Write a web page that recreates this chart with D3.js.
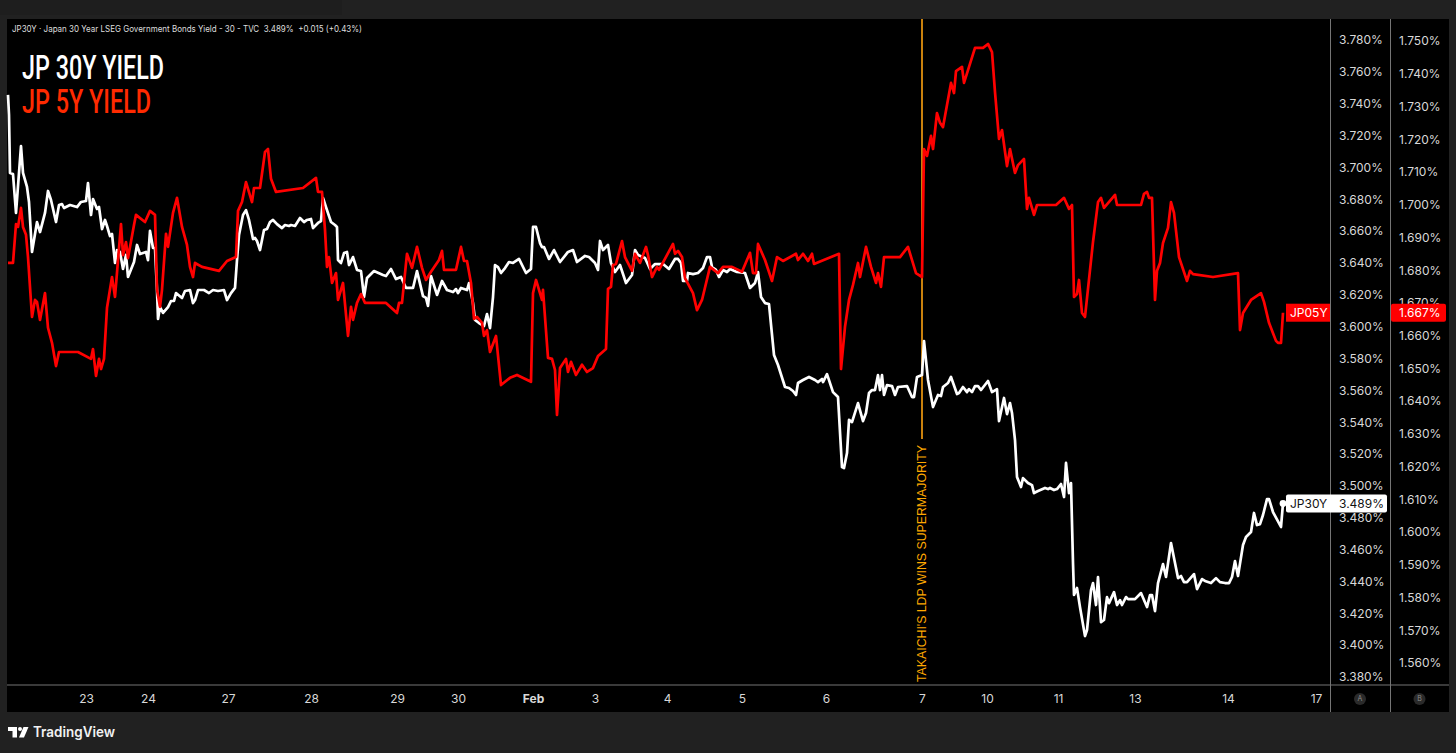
<!DOCTYPE html>
<html>
<head>
<meta charset="utf-8">
<script src="https://cdn.jsdelivr.net/npm/d3@7"></script>
<style>
  html, body { margin: 0; padding: 0; background: #212121; overflow: hidden; }
  svg { display: block; font-family: Inter, "Liberation Sans", sans-serif; }
  .axis text { fill: #d8d8d8; font-size: 12px; font-family: Inter, sans-serif; }
  .axis path, .axis line { display: none; }
</style>
</head>
<body>
<div id="chart"></div>
<script>
// [bar, yield %]
var jp30y = [[0,3.7455],[.5,3.7329],[1,3.6965],[2.5,3.6958],[4,3.6714],[6.5,3.7134],[7.5,3.6965],[9.5,3.6877],[10.5,3.6783],[12,3.6469],[14.5,3.6657],[16,3.6594],[18.5,3.6714],[20,3.6852],[21.5,3.6795],[24,3.6657],[25.5,3.6764],[27,3.677],[28,3.6745],[31,3.6764],[34.5,3.6751],[36.5,3.6783],[39,3.6789],[40,3.6902],[41.5,3.6701],[42.5,3.6801],[44.5,3.6739],[45.5,3.6751],[47,3.6613],[48.5,3.667],[49.5,3.6632],[51,3.6569],[52,3.6582],[53.5,3.64],[54.5,3.6481],[56,3.6469],[57.5,3.6362],[59,3.645],[60,3.6312],[63,3.6406],[64.5,3.6513],[66,3.6456],[69,3.6469],[70,3.6418],[71,3.6601],[72.5,3.6494],[73.5,3.6494],[74.5,3.623],[75,3.6048],[76,3.6123],[77.5,3.6086],[80,3.6123],[81.5,3.6161],[83,3.6161],[84,3.6211],[87,3.618],[88.5,3.6224],[91,3.623],[92.5,3.6148],[93.5,3.6167],[95,3.623],[98,3.623],[100.5,3.6211],[102.5,3.623],[105,3.6224],[108,3.623],[109.5,3.6167],[111.5,3.6211],[113.5,3.6243],[114.5,3.6418],[115.5,3.6575],[117.5,3.6701],[119,3.6732],[120.5,3.667],[122.5,3.655],[123.5,3.6557],[124.5,3.6538],[126,3.6481],[128,3.6607],[129.5,3.6613],[131,3.6657],[132.5,3.667],[134.5,3.6644],[137,3.6619],[138.5,3.6638],[140.5,3.6632],[141.5,3.6638],[143.5,3.6632],[146,3.6682],[148,3.6657],[149.5,3.667],[151.5,3.6676],[152.5,3.6619],[155,3.6651],[156.5,3.6663],[157.5,3.6808],[159,3.6751],[161.5,3.6657],[163.5,3.6638],[164.5,3.6626],[165,3.6418],[166.5,3.64],[168,3.6462],[169.5,3.6469],[170.5,3.6387],[172.5,3.6437],[174.5,3.6356],[176.5,3.6349],[178,3.6186],[179.5,3.6305],[183,3.6349],[187.5,3.6324],[189,3.6318],[191.5,3.6362],[194,3.6299],[196.5,3.6312],[199,3.6243],[202.5,3.6243],[204.5,3.6349],[207.5,3.6192],[209,3.618],[210,3.613],[211.5,3.6318],[214.5,3.6199],[217,3.6287],[219.5,3.623],[222.5,3.6217],[224,3.6236],[225,3.6211],[226.5,3.6243],[229.5,3.623],[230.5,3.6274],[232.5,3.6148],[233.5,3.6042],[235.5,3.6023],[238,3.6004],[239.5,3.6079],[241,3.5991],[242.5,3.6186],[243.5,3.6387],[245,3.6374],[246.5,3.6337],[248.5,3.6368],[250.5,3.6406],[252.5,3.64],[255.5,3.6425],[259,3.6337],[261.5,3.6362],[262.5,3.6626],[264,3.6626],[266,3.6525],[267,3.65],[268,3.65],[270.5,3.6425],[273,3.6481],[276,3.6406],[280,3.6469],[282.5,3.6481],[284.5,3.6406],[288.5,3.6444],[290.5,3.6437],[293.5,3.64],[295,3.6356],[296,3.6538],[297.5,3.6481],[300,3.6513],[301.5,3.64],[303.5,3.6343],[306,3.6387],[309,3.6274],[312,3.6324],[313.5,3.6481],[315,3.645],[318.5,3.6431],[321,3.6362],[323.5,3.6393],[327.5,3.6393],[330.5,3.6362],[333.5,3.6425],[335,3.6425],[336.5,3.64],[337.5,3.6287],[339.5,3.6287],[340,3.6337],[342.5,3.633],[345,3.6337],[347.5,3.6368],[349.5,3.6437],[351,3.6437],[352,3.6374],[354,3.6356],[355.5,3.6312],[357.5,3.6356],[359.5,3.6343],[361,3.6362],[364.5,3.6343],[368.5,3.6337],[371,3.6243],[373.5,3.6274],[375,3.6343],[376.5,3.6186],[378.5,3.6148],[380.5,3.6142],[383,3.5822],[385,3.5759],[388.5,3.5621],[390.5,3.5615],[392.5,3.5596],[394,3.5571],[395,3.5646],[397.5,3.5665],[400.5,3.5684],[403.5,3.5665],[405,3.5652],[407,3.5671],[407.5,3.5652],[409.5,3.5702],[412.5,3.5589],[415,3.5558],[417,3.5118],[418,3.5112],[419.5,3.5206],[420.5,3.5414],[422,3.5401],[425,3.552],[427.5,3.5407],[429,3.5458],[430.5,3.5583],[432,3.5602],[433.5,3.5602],[435,3.5696],[436,3.5602],[437,3.5696],[438,3.5571],[439.5,3.5633],[442,3.5627],[443.5,3.5571],[445,3.5621],[449.5,3.5627],[452,3.5558],[453,3.5558],[454.5,3.5684],[457,3.5696],[458,3.591],[460,3.5665],[462.5,3.5495],[465,3.5571],[466.5,3.5564],[467.5,3.5621],[470,3.5646],[471.5,3.5684],[474.5,3.5577],[475.5,3.5583],[477.5,3.5621],[479.5,3.5589],[480.5,3.5608],[482,3.5589],[483.5,3.5627],[485,3.5627],[486.5,3.5602],[490,3.5659],[492,3.5589],[494.5,3.5608],[495.5,3.5407],[498,3.5552],[499.5,3.5451],[501,3.552],[502,3.5458],[503.5,3.5288],[504.5,3.5056],[506.5,3.4993],[507.5,3.5049],[510,3.5018],[512,3.5005],[513,3.4955],[515,3.4968],[518.5,3.4987],[520,3.498],[521,3.4987],[523,3.4974],[524.5,3.498],[526.5,3.5012],[528,3.493],[529,3.5144],[530.5,3.4955],[531.5,3.5018],[532.5,3.4516],[533,3.4315],[534.5,3.4359],[536,3.4239],[538.5,3.4057],[539.5,3.4095],[541.5,3.4346],[542.5,3.439],[544,3.4252],[545,3.4428],[546.5,3.4145],[548,3.4158],[549.5,3.4302],[550.5,3.4264],[553,3.4333],[554.5,3.4252],[556,3.4283],[557,3.4252],[559,3.4302],[560,3.4289],[563.5,3.4289],[566.5,3.4327],[569.5,3.4239],[571,3.4315],[572,3.4315],[573.5,3.4214],[575,3.439],[577.5,3.4509],[579,3.4428],[581.5,3.4641],[585,3.4421],[586.5,3.4434],[588,3.4396],[589.5,3.4396],[593,3.4446],[594.5,3.4352],[597,3.4415],[598.5,3.4403],[601.5,3.439],[604,3.4421],[606,3.4396],[608.5,3.439],[610.5,3.439],[612,3.4428],[613.5,3.4528],[615,3.4434],[617.5,3.4629],[619,3.4679],[621.5,3.471],[623,3.483],[624.5,3.4754],[626,3.476],[627.5,3.4817],[629.5,3.4917],[630.5,3.4917],[632.5,3.4836],[636.5,3.4742],[637.5,3.489]];

var jp05y = [[0,1.6822],[2.5,1.6822],[4,1.6941],[5,1.6932],[6.5,1.699],[7.5,1.6932],[9,1.6908],[10,1.684],[12,1.6657],[13.5,1.6709],[14.5,1.6703],[16,1.6648],[18.5,1.673],[20,1.6624],[22,1.6578],[24,1.6507],[25.5,1.655],[35,1.655],[41.5,1.6529],[42.5,1.6559],[44,1.6477],[45.5,1.6529],[46.5,1.6498],[48,1.6529],[49.5,1.6685],[52,1.6779],[53.5,1.6718],[56.5,1.6941],[57.5,1.6846],[59,1.6886],[60,1.6837],[63,1.6938],[64,1.6969],[68.5,1.6947],[71,1.6981],[73.5,1.6969],[74.5,1.674],[76,1.6688],[77,1.674],[79,1.6911],[80,1.6871],[82.5,1.6975],[84.5,1.7021],[87,1.6932],[89.5,1.6877],[91,1.681],[92.5,1.6779],[93.5,1.6822],[97,1.681],[105.5,1.6798],[109.5,1.6828],[114,1.684],[115,1.6981],[117,1.7008],[119,1.7069],[122,1.7008],[123,1.7051],[126,1.7051],[128.5,1.7161],[130,1.717],[131.5,1.7079],[134,1.7039],[147.5,1.7051],[154,1.7082],[155,1.7039],[157,1.7039],[158.5,1.6923],[159.5,1.681],[160.5,1.684],[162,1.6761],[164,1.6791],[165,1.6709],[167.5,1.6761],[170,1.6599],[171.5,1.6688],[172.5,1.6648],[174.5,1.67],[176.5,1.6727],[178.5,1.67],[189,1.67],[194.5,1.6669],[195.5,1.67],[197,1.67],[199.5,1.685],[202,1.6807],[204.5,1.6871],[207,1.6807],[209,1.677],[211.5,1.6795],[215.5,1.6831],[217,1.6859],[218,1.6801],[224,1.6801],[226.5,1.6871],[228,1.6828],[229.5,1.6828],[231.5,1.6761],[233,1.6651],[234.5,1.6657],[237,1.6639],[238,1.6599],[239.5,1.6617],[241,1.655],[244,1.6599],[246.5,1.6449],[251,1.6471],[254.5,1.648],[261.5,1.6459],[262.5,1.673],[264,1.677],[267,1.6709],[267.5,1.674],[270,1.6532],[272,1.6529],[273.5,1.6495],[274.5,1.6358],[276,1.6501],[279,1.6529],[280,1.6489],[281.5,1.652],[284,1.648],[287,1.6511],[289.5,1.6489],[292.5,1.6501],[295,1.6538],[299,1.6559],[300,1.6743],[301.5,1.6749],[302.5,1.6816],[304,1.6819],[307,1.6889],[308.5,1.684],[312,1.6798],[313.5,1.685],[316,1.6822],[319,1.6871],[320,1.6846],[322,1.6779],[324.5,1.681],[325.5,1.6801],[332.5,1.688],[333.5,1.685],[335,1.6859],[337,1.684],[338.5,1.6776],[342.5,1.673],[344.5,1.6678],[347,1.6709],[351,1.681],[355,1.6791],[357.5,1.681],[362,1.681],[367,1.6795],[371,1.6853],[372.5,1.6791],[374,1.6791],[375,1.688],[378.5,1.6831],[382,1.6767],[384.5,1.684],[387.5,1.6828],[394,1.685],[395,1.6831],[397.5,1.685],[400,1.6828],[402,1.685],[403,1.6819],[415.5,1.685],[416.5,1.6498],[418.5,1.6627],[420.5,1.6709],[422.5,1.6755],[425,1.6822],[426,1.6779],[429,1.6871],[431.5,1.681],[434,1.6761],[435,1.6791],[436.5,1.6749],[438,1.684],[446,1.684],[450,1.6871],[454,1.6791],[457,1.6779],[458,1.717],[459.5,1.7149],[461.5,1.721],[462.5,1.717],[464.5,1.728],[466,1.725],[467.5,1.7237],[471.5,1.7372],[473,1.7341],[474,1.7408],[477,1.7421],[478,1.7372],[483.5,1.7479],[487.5,1.7479],[490,1.7491],[492,1.7466],[493.5,1.7344],[495.5,1.7201],[497,1.7228],[499.5,1.7118],[501,1.717],[503.5,1.7097],[505,1.7121],[508,1.714],[509.5,1.6987],[510.5,1.7021],[513,1.6969],[514.5,1.6999],[524,1.6999],[528,1.7021],[530.5,1.6987],[532,1.6999],[533,1.6718],[534.5,1.6727],[535.5,1.677],[537,1.6669],[538.5,1.6657],[542.5,1.6886],[545,1.7008],[546.5,1.7021],[548,1.699],[553.5,1.703],[554.5,1.6999],[566.5,1.6999],[568,1.7033],[569.5,1.7039],[570.5,1.7021],[572,1.7021],[573.5,1.6709],[574.5,1.6798],[576,1.6822],[577.5,1.6883],[580,1.6929],[581.5,1.7008],[583,1.6975],[585.5,1.684],[589.5,1.6767],[591,1.6798],[592.5,1.6788],[602.5,1.6779],[615,1.6791],[616,1.6617],[617.5,1.6669],[621.5,1.6709],[626.5,1.673],[628,1.6703],[630.5,1.6639],[634,1.6584],[635,1.6578],[636.5,1.6578],[637.5,1.667]];

var dayLabels = ['23','24','27','28','29','30','Feb','3','4','5','6','7','10','11','13','14','17'];
var dayBars = [39,70,110,151.5,194.5,225,262.5,293.5,329.5,367,409,457,489.5,525,563.5,610,654];
var ticksA = [3.38,3.4,3.42,3.44,3.46,3.48,3.5,3.52,3.54,3.56,3.58,3.6,3.62,3.64,3.66,3.68,3.7,3.72,3.74,3.76,3.78];
var ticksB = [1.56,1.57,1.58,1.59,1.6,1.61,1.62,1.63,1.64,1.65,1.66,1.67,1.68,1.69,1.7,1.71,1.72,1.73,1.74,1.75];
var electionBar = 457;
var last30 = 3.489, last05 = 1.667;

var width = 1456, height = 753;
var panel = { left: 7, top: 19, right: 1449, bottom: 712 };
var plotRight = 1330, axisLine = 685, colB = 1390;

var svg = d3.select('#chart').append('svg')
    .attr('width', width)
    .attr('height', height)
    .attr('viewBox', `0 0 ${width} ${height}`);

var x = d3.scaleLinear().domain([0, 661]).range([8, 1330]);
var yA = d3.scaleLinear().domain([3.38, 3.78]).range([677, 40]);
var yB = d3.scaleLinear().domain([1.56, 1.75]).range([663, 41]);

svg.append('rect').attr('width', width).attr('height', height).attr('fill', '#212121');
svg.append('rect').attr('x', 0).attr('y', 0).attr('width', 342).attr('height', 15).attr('fill', '#1e1e1e');

svg.append('rect')
    .attr('x', panel.left).attr('y', panel.top)
    .attr('width', panel.right - panel.left).attr('height', panel.bottom - panel.top)
    .attr('fill', '#000');

// panel separators
var sepColor = '#757575';
svg.append('line').attr('x1', panel.left).attr('x2', panel.right).attr('y1', axisLine).attr('y2', axisLine).attr('stroke', sepColor);
[plotRight, colB].forEach(function (sx) {
    svg.append('line').attr('x1', sx + .5).attr('x2', sx + .5).attr('y1', panel.top).attr('y2', panel.bottom).attr('stroke', sepColor);
});

// axes
var fmt3 = function (d) { return d.toFixed(3) + '%' };

var axisA = d3.axisRight(yA).tickValues(ticksA).tickFormat(fmt3).tickSize(0).tickPadding(0);
svg.append('g').attr('class', 'axis').attr('transform', 'translate(1339,0)').call(axisA);

var axisB = d3.axisRight(yB).tickValues(ticksB).tickFormat(fmt3).tickSize(0).tickPadding(0);
svg.append('g').attr('class', 'axis').attr('transform', 'translate(1399,0)').call(axisB);

var axisX = d3.axisBottom(x).tickValues(dayBars)
    .tickFormat(function (d, i) { return dayLabels[i] }).tickSize(0).tickPadding(0);
svg.append('g').attr('class', 'axis').attr('transform', 'translate(0,694)').call(axisX)
    .selectAll('text')
    .style('font-weight', function (d, i) { return dayLabels[i] === 'Feb' ? 700 : 400 });

// election marker
var eventColor = '#e0900f';
svg.append('line')
    .attr('x1', x(electionBar)).attr('x2', x(electionBar))
    .attr('y1', panel.top).attr('y2', 439)
    .attr('stroke', eventColor).attr('stroke-width', 1.8);

svg.append('text')
    .attr('transform', `translate(${x(electionBar) + 4},682) rotate(-90)`)
    .attr('textLength', 237).attr('lengthAdjust', 'spacingAndGlyphs')
    .attr('font-size', 12.5).attr('fill', '#ffa800')
    .attr('font-family', '"Liberation Sans", sans-serif')
    .text("TAKAICHI'S LDP WINS SUPERMAJORITY");

// series
var line30 = d3.line().x(function (d) { return x(d[0]) }).y(function (d) { return yA(d[1]) });
var line05 = d3.line().x(function (d) { return x(d[0]) }).y(function (d) { return yB(d[1]) });

svg.append('path').datum(jp30y).attr('d', line30)
    .attr('fill', 'none').attr('stroke', '#fff').attr('stroke-width', 2.7).attr('stroke-linejoin', 'round');
svg.append('path').datum(jp05y).attr('d', line05)
    .attr('fill', 'none').attr('stroke', '#ff0000').attr('stroke-width', 2.7).attr('stroke-linejoin', 'round');

svg.append('circle').attr('cx', x(637.5)).attr('cy', yA(last30)).attr('r', 3.4).attr('fill', '#fff');

// last value tags
var y05 = yB(last05), y30 = yA(last30);
svg.append('rect').attr('x', 1286).attr('y', y05 - 9).attr('width', 44).attr('height', 18).attr('fill', '#ff0000');
svg.append('rect').attr('x', 1391).attr('y', y05 - 9).attr('width', 55).attr('height', 18).attr('rx', 2).attr('fill', '#ff0000');
svg.append('rect').attr('x', 1286).attr('y', y30 - 9).attr('width', 101).attr('height', 18).attr('rx', 2).attr('fill', '#fff');

function tag(tx, ty, str, color) {
    svg.append('text').attr('x', tx).attr('y', ty).attr('dy', '.35em')
        .attr('font-size', 12).attr('fill', color).text(str);
}
tag(1290, y05, 'JP05Y', '#fff');
tag(1399, y05, fmt3(last05), '#fff');
tag(1290, y30, 'JP30Y', '#111');
tag(1339, y30, fmt3(last30), '#111');

// scale badges
[['A', 1360], ['B', 1419.5]].forEach(function (b) {
    svg.append('circle').attr('cx', b[1]).attr('cy', 699).attr('r', 6).attr('fill', '#2a2a2a');
    svg.append('text').attr('x', b[1]).attr('y', 699).attr('dy', '.35em').attr('text-anchor', 'middle')
        .attr('font-size', 7).attr('fill', '#8a8a8a').text(b[0]);
});

// header
svg.append('text').attr('x', 12).attr('y', 32)
    .attr('font-size', 9).attr('fill', '#dedede')
    .attr('textLength', 350).attr('lengthAdjust', 'spacingAndGlyphs')
    .style('white-space', 'pre')
    .text('JP30Y · Japan 30 Year LSEG Government Bonds Yield - 30 - TVC  3.489%  +0.015 (+0.43%)');

function bigTitle(str, ty, len, color) {
    svg.append('text').attr('x', 22).attr('y', ty)
        .attr('font-family', '"Roboto", sans-serif').attr('font-size', 34).attr('font-weight', 500)
        .attr('textLength', len).attr('lengthAdjust', 'spacingAndGlyphs')
        .attr('fill', color).text(str);
}
bigTitle('JP 30Y YIELD', 79, 142, '#fff');
bigTitle('JP 5Y YIELD', 113, 129, '#ff2a00');

// footer logo
var logo = svg.append('g').attr('fill', '#fff');
logo.append('path').attr('d', 'M8 727H17V737.5H12.5V731H8Z');
logo.append('circle').attr('cx', 20).attr('cy', 729).attr('r', 2);
logo.append('path').attr('d', 'M23.5 727H28.5L24 737.5H19Z');
svg.append('text').attr('x', 33).attr('y', 737)
    .attr('font-family', 'Inter, sans-serif').attr('font-size', 14.2).attr('font-weight', 600)
    .attr('textLength', 82).attr('lengthAdjust', 'spacingAndGlyphs')
    .attr('fill', '#f2f2f2').text('TradingView');
</script>
</body>
</html>
